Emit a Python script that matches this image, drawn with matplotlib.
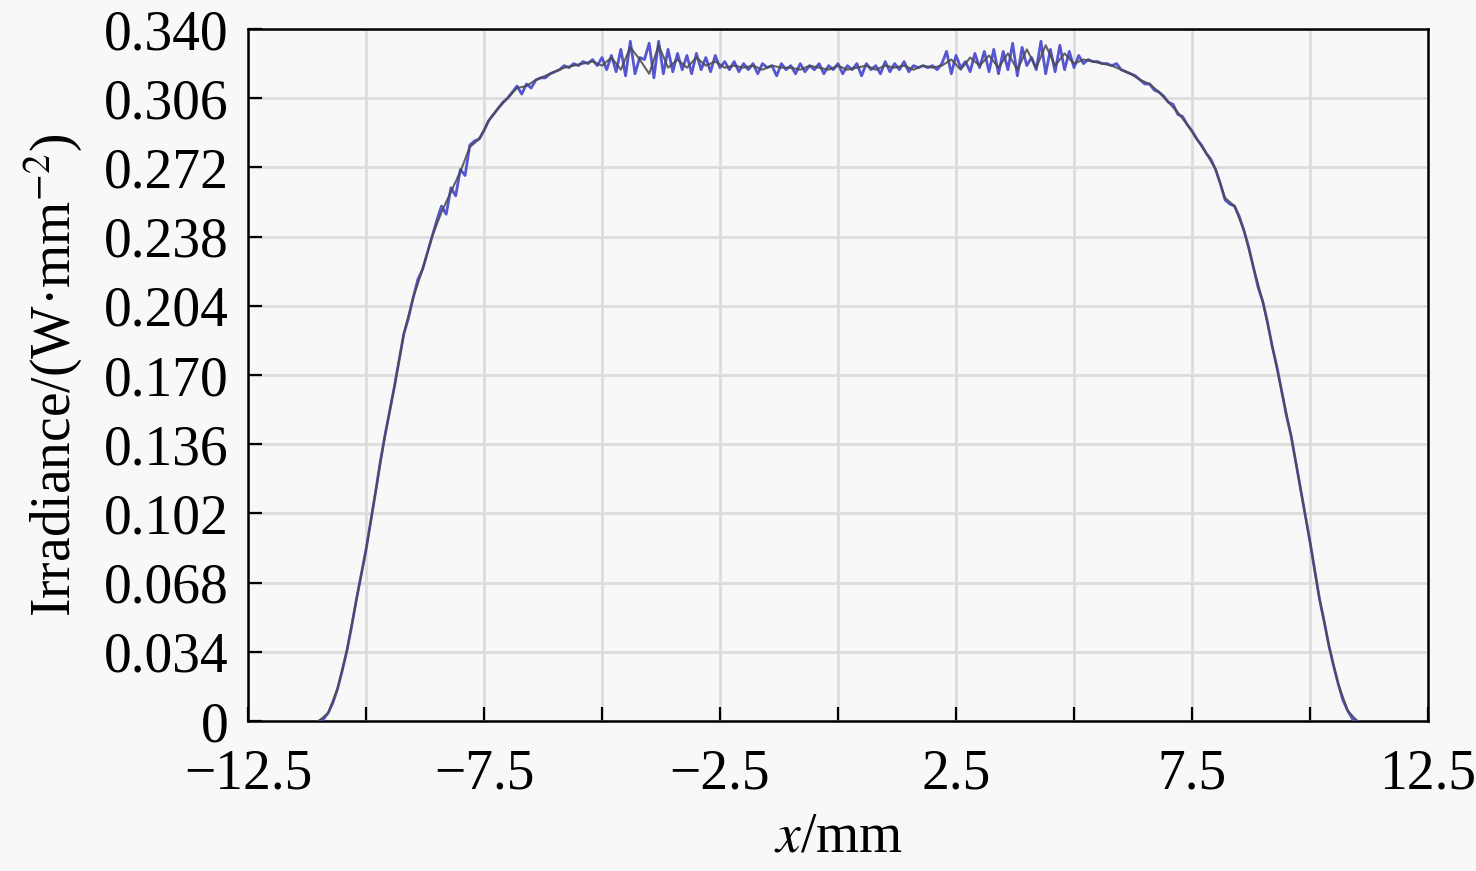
import matplotlib
matplotlib.use("Agg")
import matplotlib.pyplot as plt
import numpy as np

# irradiance profile, fine sampling (0.1 mm), -11 .. 11 mm
irr_fine = [
    0.000, 0.001, 0.004, 0.009, 0.016, 0.025, 0.035, 0.047, 0.060, 0.072,
    0.084, 0.098, 0.112, 0.127, 0.140, 0.152, 0.164, 0.177, 0.190, 0.198,
    0.208, 0.217, 0.222, 0.230, 0.238, 0.246, 0.253, 0.249, 0.262, 0.258,
    0.271, 0.268, 0.283, 0.285, 0.286, 0.290, 0.295, 0.298, 0.301, 0.304,
    0.306, 0.309, 0.312, 0.308, 0.313, 0.311, 0.315, 0.316, 0.316, 0.318,
    0.319, 0.320, 0.322, 0.321, 0.323, 0.322, 0.324, 0.323, 0.325, 0.322,
    0.326, 0.320, 0.327, 0.319, 0.330, 0.317, 0.334, 0.318, 0.326, 0.325,
    0.333, 0.316, 0.334, 0.318, 0.330, 0.319, 0.328, 0.320, 0.327, 0.318,
    0.328, 0.320, 0.326, 0.319, 0.327, 0.321, 0.324, 0.320, 0.324, 0.319,
    0.323, 0.320, 0.323, 0.318, 0.323, 0.321, 0.322, 0.317, 0.323, 0.320,
    0.322, 0.318, 0.323, 0.319, 0.322, 0.320, 0.323, 0.318, 0.322, 0.320,
    0.323, 0.318, 0.322, 0.320, 0.323, 0.317, 0.323, 0.320, 0.322, 0.318,
    0.324, 0.319, 0.323, 0.320, 0.324, 0.319, 0.322, 0.321, 0.322, 0.321,
    0.322, 0.320, 0.323, 0.329, 0.318, 0.327, 0.321, 0.324, 0.319, 0.328,
    0.321, 0.329, 0.319, 0.330, 0.318, 0.329, 0.320, 0.333, 0.317, 0.331,
    0.322, 0.326, 0.320, 0.334, 0.318, 0.330, 0.319, 0.332, 0.320, 0.329,
    0.321, 0.327, 0.323, 0.325, 0.324, 0.324, 0.323, 0.323, 0.322, 0.323,
    0.320, 0.319, 0.318, 0.317, 0.315, 0.313, 0.313, 0.310, 0.309, 0.307,
    0.304, 0.303, 0.298, 0.297, 0.293, 0.290, 0.286, 0.283, 0.279, 0.276,
    0.271, 0.264, 0.256, 0.254, 0.253, 0.248, 0.241, 0.233, 0.223, 0.213,
    0.206, 0.196, 0.184, 0.174, 0.162, 0.150, 0.140, 0.127, 0.114, 0.101,
    0.088, 0.074, 0.060, 0.049, 0.037, 0.027, 0.018, 0.010, 0.005, 0.001,
    0.000,
]

# coarser profile (0.2 mm), drawn in gray on top
irr_coarse = [
    0.000, 0.004, 0.016, 0.035, 0.060, 0.084, 0.112, 0.140, 0.164, 0.190,
    0.208, 0.222, 0.238, 0.250, 0.260, 0.270, 0.282, 0.286, 0.295, 0.301,
    0.306, 0.311, 0.312, 0.315, 0.317, 0.319, 0.321, 0.322, 0.323, 0.324,
    0.322, 0.326, 0.320, 0.331, 0.325, 0.318, 0.332, 0.321, 0.325, 0.321,
    0.326, 0.322, 0.324, 0.321, 0.322, 0.321, 0.322, 0.320, 0.322, 0.321,
    0.321, 0.320, 0.322, 0.321, 0.320, 0.322, 0.320, 0.321, 0.322, 0.320,
    0.322, 0.321, 0.322, 0.320, 0.322, 0.321, 0.322, 0.325, 0.320, 0.326,
    0.322, 0.327, 0.321, 0.328, 0.320, 0.330, 0.321, 0.332, 0.322, 0.328,
    0.323, 0.325, 0.324, 0.323, 0.322, 0.320, 0.318, 0.315, 0.313, 0.309,
    0.304, 0.299, 0.293, 0.286, 0.279, 0.271, 0.257, 0.253, 0.241, 0.223,
    0.206, 0.184, 0.162, 0.140, 0.114, 0.088, 0.060, 0.037, 0.018, 0.005,
    0.000,
]

x_fine = np.linspace(-11, 11, len(irr_fine))
x_coarse = np.linspace(-11, 11, len(irr_coarse))

x_ticks = [-12.5, -10, -7.5, -5, -2.5, 0, 2.5, 5, 7.5, 10, 12.5]
x_labels = ['\u221212.5', '', '\u22127.5', '', '\u22122.5', '', '2.5', '', '7.5', '', '12.5']
y_ticks = [0, 0.034, 0.068, 0.102, 0.136, 0.170, 0.204, 0.238, 0.272, 0.306, 0.340]
y_labels = ['0', '0.034', '0.068', '0.102', '0.136', '0.170', '0.204', '0.238', '0.272', '0.306', '0.340']

plt.rcParams['font.family'] = ['Liberation Serif', 'DejaVu Serif']
plt.rcParams['mathtext.fontset'] = 'stix'

bg = '#f8f8f8'
fig = plt.figure(figsize=(14.76, 8.71), dpi=100, facecolor=bg)
ax = fig.add_axes([0.168, 0.1722, 0.7995, 0.7945], facecolor=bg)

ax.plot(x_fine, irr_fine, color='#5656d2', lw=2.0, zorder=3)
ax.plot(x_coarse, irr_coarse, color='#4a4a4a', lw=1.5, alpha=0.85, zorder=4)

ax.set_xlim(-12.5, 12.5)
ax.set_ylim(0, 0.340)
ax.set_xticks(x_ticks)
ax.set_xticklabels(x_labels)
ax.set_yticks(y_ticks)
ax.set_yticklabels(y_labels)

ax.grid(True, color='#dcdcdc', lw=2.0)
ax.set_axisbelow(True)
ax.tick_params(direction='in', length=10, width=1.6, labelsize=40,
               top=False, right=False)
ax.tick_params(axis='x', pad=20)
ax.tick_params(axis='y', pad=14)
for s in ax.spines.values():
    s.set_linewidth(1.8)
    s.set_color('black')

ax.set_xlabel('$x$/mm', fontsize=40, labelpad=8)
ax.set_ylabel('Irradiance/(W\u00b7mm$^{\u22122}$)', fontsize=40, labelpad=14)

fig.savefig('out.png', dpi=100, facecolor=bg)
